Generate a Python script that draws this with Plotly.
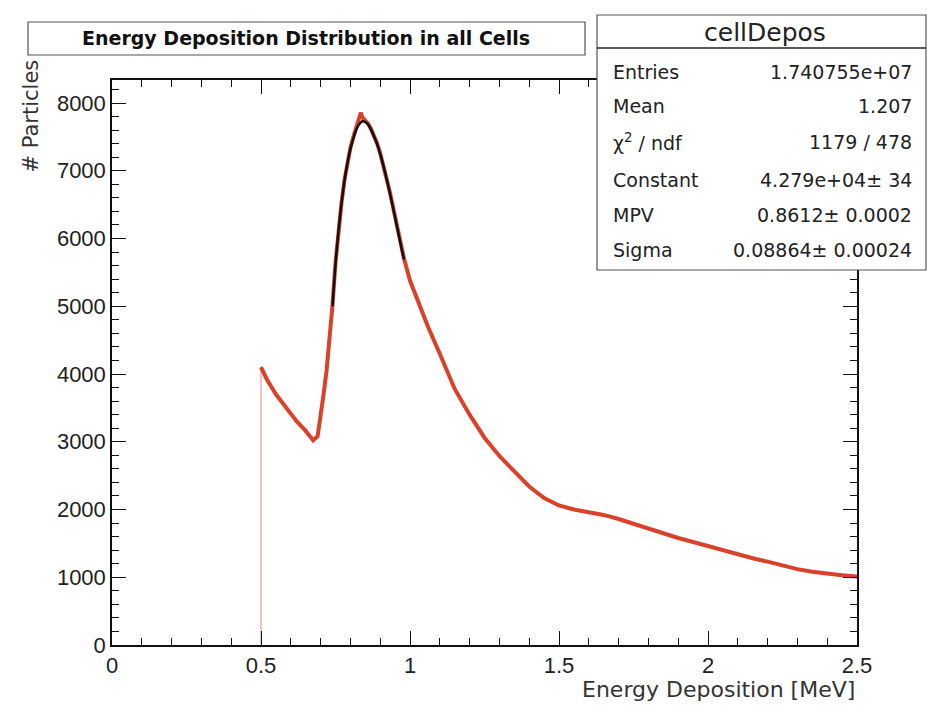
import plotly.graph_objects as go

# ---- data ----
energy = [0.50, 0.52, 0.55, 0.58, 0.60, 0.62, 0.65, 0.675, 0.69, 0.70, 0.71, 0.72, 0.73,
          0.74, 0.75, 0.76, 0.77, 0.78, 0.79, 0.80, 0.81, 0.82, 0.83, 0.835, 0.84, 0.85, 0.86,
          0.87, 0.88, 0.89, 0.90, 0.91, 0.92, 0.93, 0.94, 0.95, 0.96, 0.97, 0.98, 1.00,
          1.03, 1.06, 1.10, 1.15, 1.20, 1.25, 1.30, 1.35, 1.40, 1.45, 1.50, 1.55, 1.60,
          1.65, 1.70, 1.75, 1.80, 1.85, 1.90, 1.95, 2.00, 2.05, 2.10, 2.15, 2.20, 2.25,
          2.30, 2.35, 2.40, 2.45, 2.50]
counts = [4100, 3920, 3700, 3520, 3400, 3300, 3160, 3020, 3080, 3350, 3700, 4050, 4500,
          5020, 5640, 6120, 6520, 6860, 7130, 7340, 7500, 7640, 7760, 7860, 7790, 7740, 7690,
          7610, 7510, 7400, 7260, 7100, 6920, 6730, 6530, 6320, 6110, 5900, 5700, 5380,
          5020, 4700, 4300, 3780, 3400, 3060, 2790, 2560, 2340, 2170, 2060, 2000, 1960,
          1920, 1860, 1790, 1710, 1640, 1580, 1520, 1460, 1390, 1330, 1280, 1230, 1170,
          1120, 1080, 1050, 1030, 1010]

fit_energy = [0.74, 0.75, 0.76, 0.77, 0.78, 0.79, 0.80, 0.81, 0.82, 0.83, 0.84, 0.85, 0.86,
              0.87, 0.88, 0.89, 0.90, 0.91, 0.92, 0.93, 0.94, 0.95, 0.96, 0.97, 0.98]
fit_counts = [5000, 5620, 6110, 6510, 6850, 7110, 7320, 7480, 7610, 7690, 7730, 7720, 7680,
              7600, 7500, 7390, 7250, 7090, 6910, 6720, 6520, 6310, 6100, 5890, 5690]

stat_labels = ["Entries", "Mean", "\u03c7<sup>2</sup> / ndf", "Constant", "MPV", "Sigma"]
stat_values = ["1.740755e+07", "1.207", "1179 / 478", "4.279e+04\u00b1 34",
               "0.8612\u00b1 0.0002", "0.08864\u00b1 0.00024"]

x_ticks = [0, 0.5, 1, 1.5, 2, 2.5]
x_tick_text = ["0", "0.5", "1", "1.5", "2", "2.5"]
y_ticks = [0, 1000, 2000, 3000, 4000, 5000, 6000, 7000, 8000]

W, H = 927, 705
L, R, T, B = 112, 70, 80, 60
FONT = "Liberation Sans, Arial, Helvetica, sans-serif"
WIDE = "DejaVu Sans, Verdana, sans-serif"
RED = "#d9412b"

fig = go.Figure()
# bin edge at the first filled bin
fig.add_trace(go.Scatter(x=[energy[0], energy[0]], y=[0, counts[0]], mode="lines",
                         line=dict(color="#e88a7e", width=1), hoverinfo="skip",
                         showlegend=False))
fig.add_trace(go.Scatter(x=energy, y=counts, mode="lines",
                         line=dict(color=RED, width=4), showlegend=False))
fig.add_trace(go.Scatter(x=fit_energy, y=fit_counts, mode="lines",
                         line=dict(color="#111111", width=2.5), line_shape="spline",
                         showlegend=False))

axis_common = dict(showgrid=False, zeroline=False, showline=True, linecolor="#111",
                   linewidth=1.5, mirror="ticks", ticks="inside", tickcolor="#111",
                   tickwidth=1, tickfont=dict(family=FONT, size=22, color="#222"))

fig.update_xaxes(range=[0, 2.5], tickvals=x_ticks, ticktext=x_tick_text, ticklen=14,
                 minor=dict(dtick=0.1, ticks="inside", ticklen=7, tickcolor="#111"),
                 **axis_common)
fig.update_yaxes(range=[0, 8340], tickvals=y_ticks, ticklen=14,
                 minor=dict(dtick=200, ticks="inside", ticklen=7, tickcolor="#111"),
                 **axis_common)


def px_x(p):
    return (p - L) / (W - L - R)


def px_y(p):
    return (H - B - p) / (H - T - B)


shapes = []
annotations = []

# title box
shapes.append(dict(type="rect", xref="paper", yref="paper",
                   x0=px_x(28), x1=px_x(585), y0=px_y(55), y1=px_y(22),
                   line=dict(color="#555", width=1.2), fillcolor="white", layer="above"))
annotations.append(dict(text="<b>Energy Deposition Distribution in all Cells</b>",
                        xref="paper", yref="paper", x=px_x(306), y=px_y(38),
                        xanchor="center", yanchor="middle", showarrow=False,
                        font=dict(family=WIDE, size=19, color="#111")))

# stats box
shapes.append(dict(type="rect", xref="paper", yref="paper",
                   x0=px_x(597), x1=px_x(926), y0=px_y(270), y1=px_y(15),
                   line=dict(color="#555", width=1.2), fillcolor="white", layer="above"))
shapes.append(dict(type="line", xref="paper", yref="paper",
                   x0=px_x(597), x1=px_x(926), y0=px_y(48), y1=px_y(48),
                   line=dict(color="#222", width=1.5), layer="above"))
annotations.append(dict(text="cellDepos", xref="paper", yref="paper",
                        x=px_x(765), y=px_y(32), xanchor="center", yanchor="middle",
                        showarrow=False, font=dict(family=WIDE, size=25, color="#222")))
row_y = [72, 106, 142, 180, 215, 250]
for lab, val, ry in zip(stat_labels, stat_values, row_y):
    annotations.append(dict(text=lab, xref="paper", yref="paper", x=px_x(611), y=px_y(ry),
                            xanchor="left", yanchor="middle", showarrow=False,
                            font=dict(family=WIDE, size=19, color="#222")))
    annotations.append(dict(text=val, xref="paper", yref="paper", x=px_x(914), y=px_y(ry),
                            xanchor="right", yanchor="middle", showarrow=False,
                            font=dict(family=WIDE, size=19, color="#222")))

# axis titles
annotations.append(dict(text="Energy Deposition [MeV]", xref="paper", yref="paper",
                        x=1.0, y=px_y(689), xanchor="right", yanchor="middle",
                        showarrow=False, font=dict(family=WIDE, size=22, color="#333")))
annotations.append(dict(text="# Particles", xref="paper", yref="paper",
                        x=px_x(30), y=px_y(58), xanchor="center", yanchor="top",
                        textangle=-90, showarrow=False,
                        font=dict(family=WIDE, size=21, color="#333")))

fig.update_layout(width=W, height=H, margin=dict(l=L, r=R, t=T, b=B),
                  paper_bgcolor="white", plot_bgcolor="white",
                  shapes=shapes, annotations=annotations, showlegend=False)

fig.write_html("out.html")
